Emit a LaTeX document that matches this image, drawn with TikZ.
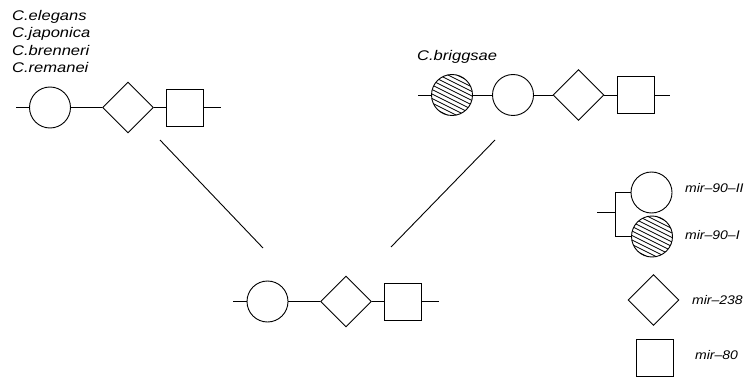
\documentclass[tikz,border=0pt]{standalone}
\usepackage{fontspec}
\setmainfont{Liberation Sans}
\usepackage{tikz}
\usetikzlibrary{shapes.geometric,positioning}
% labels are set a little wide
\newcommand{\wide}[2][1.18]{\scalebox{#1}[1]{#2}}
\tikzset{
  gen/.style={draw,line width=0.9pt,inner sep=0pt},
  rnd/.style={gen,circle,minimum size=41pt},
  dia/.style={gen,diamond,minimum width=51pt,minimum height=51pt},
  box/.style={gen,rectangle,minimum size=37pt},
  hatched/.style={path picture={
    \foreach \k in {-36,-31.5,...,36}
      \draw[line width=0.85pt] ([shift={(-30,\k-15)}]path picture bounding box.center) -- ++(60,30);}},
  species/.style={font=\fontsize{14}{17}\selectfont\itshape,inner sep=0pt,anchor=base west},
  lbl/.style={font=\fontsize{12.5}{14}\selectfont\itshape,inner sep=0pt,anchor=base west},
  wire/.style={line width=0.9pt}
}

\begin{document}
\begin{tikzpicture}[x=1pt,y=-1pt]
\useasboundingbox (0,0) rectangle (744,377);
% left cluster
\node[species] (el) at (12,20.5) {\wide{C.elegans}};
\node[species] (ja) at (12,37.8) {\wide{C.japonica}};
\node[species] (br) at (12,55.1) {\wide{C.brenneri}};
\node[species] (re) at (12,72.4) {\wide{C.remanei}};
\coordinate (a0) at (16,107.5);
\node[rnd] (a1) at (50,107.5) {};
\node[dia] (a2) at (128,107.5) {};
\node[box] (a3) at (185,107.5) {};
\coordinate (a4) at (221,107.5);
\draw[wire] (a0) -- (a1) -- (a2) -- (a3) -- (a4);
% briggsae
\node[species] (bg) at (417,60.5) {\wide{C.briggsae}};
\coordinate (b0) at (418,95);
\node[rnd,hatched] (b1) at (452,95) {};
\node[rnd] (b2) at (513,95) {};
\node[dia] (b3) at (578.5,95) {};
\node[box] (b4) at (636,95) {};
\coordinate (b5) at (670,95);
\draw[wire] (b0) -- (b1) -- (b2) -- (b3) -- (b4) -- (b5);
% ancestor
\coordinate (c0) at (233,301.5);
\node[rnd] (c1) at (267.5,301.5) {};
\node[dia] (c2) at (346,301.5) {};
\node[box] (c3) at (402.5,301.5) {};
\coordinate (c4) at (439,301.5);
\draw[wire] (c0) -- (c1) -- (c2) -- (c3) -- (c4);
% tree
\coordinate (tl) at (160,140);
\coordinate (tr) at (495,140);
\coordinate (ml) at (263,248);
\coordinate (mr) at (391,247);
\draw[wire] (tl) -- (ml);
\draw[wire] (tr) -- (mr);
% key
\node[rnd] (k1) at (651.5,192.5) {};
\node[rnd,hatched] (k2) at (652,236.5) {};
\coordinate (kb) at (597,212);
\draw[wire] (kb) -- ++(18,0) coordinate (kj);
\draw[wire] (kj |- k1.west) -- (kj |- k2.west);
\draw[wire] (kj |- k1.west) -- (k1.west);
\draw[wire] (kj |- k2.west) -- (k2.west);
\node[dia] (k3) at (653.5,300) {};
\node[box] (k4) at (654.5,358) {};
\node[lbl] (l1) at (685,192) {\wide[1.12]{mir--90--II}};
\node[lbl] (l2) at (685,239.5) {\wide[1.12]{mir--90--I}};
\node[lbl] (l3) at (692,304) {\wide[1.12]{mir--238}};
\node[lbl] (l4) at (695,359) {\wide[1.12]{mir--80}};
\end{tikzpicture}
\end{document}
